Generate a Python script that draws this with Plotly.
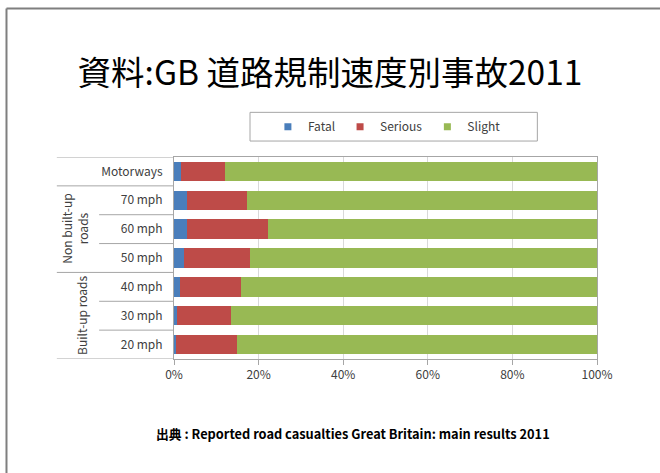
import plotly.graph_objects as go

categories = ["Motorways", "70 mph", "60 mph", "50 mph", "40 mph", "30 mph", "20 mph"]
fatal = [1.6, 3.0, 3.0, 2.3, 1.3, 0.6, 0.4]
serious = [10.5, 14.2, 19.2, 15.7, 14.5, 12.8, 14.5]
slight = [87.9, 82.8, 77.8, 82.0, 84.2, 86.6, 85.1]
series_names = ["Fatal", "Serious", "Slight"]
colors = ["#4A7EBB", "#BE4B48", "#98B954"]
x_ticks = [0, 20, 40, 60, 80, 100]
groups = [("Non built-up<br>roads", 2, -0.235), ("Built-up roads", 5, -0.217)]
# boundaries between categories (index-0.5) and where the separator starts (paper x)
boundaries = [(-0.5, -0.277), (0.5, -0.277), (1.5, -0.177), (2.5, -0.177),
              (3.5, -0.277), (4.5, -0.177), (5.5, -0.177), (6.5, -0.277)]

FONT = "Noto Sans CJK JP"
GRAY_TXT = "#404040"
LINE = "#A6A6A6"

fig = go.Figure()
for name, vals, col in zip(series_names, [fatal, serious, slight], colors):
    fig.add_trace(go.Bar(y=categories, x=vals, name=name, orientation="h",
                         marker=dict(color=col, line=dict(width=0)),
                         showlegend=False))
for name, col in zip(series_names, colors):
    fig.add_trace(go.Scatter(x=[None], y=[None], mode="markers", name=name,
                             marker=dict(symbol="square", size=7, color=col),
                             showlegend=True))

shapes = []
for yb, x0 in boundaries:
    shapes.append(dict(type="line", xref="paper", yref="y", x0=x0, x1=0, y0=yb, y1=yb,
                       line=dict(color=LINE, width=1)))
# legend box
shapes.append(dict(type="rect", xref="paper", yref="paper", x0=0.1797, x1=0.859,
                   y0=1.079, y1=1.221, line=dict(color="#A6A6A6", width=1)))
# slide frame
shapes.append(dict(type="line", xref="paper", yref="paper", x0=-0.396, x1=-0.396,
                   y0=1.735, y1=-0.7, line=dict(color="#7F7F7F", width=2)))
shapes.append(dict(type="line", xref="paper", yref="paper", x0=-0.396, x1=1.2,
                   y0=1.735, y1=1.735, line=dict(color="#7F7F7F", width=2)))

annotations = []
for text, idx, xp in groups:
    annotations.append(dict(text=text, xref="paper", yref="y", x=xp, y=idx,
                            xanchor="center", yanchor="middle",
                            textangle=-90, showarrow=False,
                            font=dict(family=FONT, size=12, color=GRAY_TXT)))
annotations.append(dict(text="<b>出典 : Reported road casualties Great Britain: main results 2011</b>",
                        xref="paper", yref="paper", x=0.423, y=-0.37,
                        xanchor="center", yanchor="middle", showarrow=False,
                        font=dict(family=FONT, size=12.8, color="#000000")))

fig.update_layout(
    width=660, height=473,
    margin=dict(l=174, r=63, t=157, b=114),
    paper_bgcolor="white", plot_bgcolor="white",
    barmode="stack", bargap=0.33,
    title=dict(text="資料:GB 道路規制速度別事故2011", xref="container", yref="container",
               x=0.5, y=1 - 73 / 473, xanchor="center", yanchor="middle",
               font=dict(family=FONT, size=33.5, color="#000000")),
    legend=dict(orientation="h", x=0.222, y=1.15, xanchor="left", yanchor="middle",
                traceorder="normal",
                bgcolor="rgba(0,0,0,0)", borderwidth=0,
                font=dict(family=FONT, size=12, color=GRAY_TXT), itemclick=False),
    shapes=shapes, annotations=annotations,
    showlegend=True,
)
fig.update_xaxes(range=[0, 100], tickvals=x_ticks, ticktext=[f"{v}%" for v in x_ticks],
                 showgrid=True, gridcolor="#D9D9D9", gridwidth=1,
                 showline=True, linecolor=LINE, linewidth=1, mirror=True,
                 ticks="outside", ticklen=5, tickcolor=LINE, zeroline=False,
                 tickfont=dict(family=FONT, size=12, color=GRAY_TXT), fixedrange=True)
fig.update_yaxes(type="category", categoryorder="array", categoryarray=categories,
                 range=[6.5, -0.5], showgrid=False,
                 showline=True, linecolor=LINE, linewidth=1, mirror=True,
                 ticks="", ticklabelstandoff=8,
                 tickfont=dict(family=FONT, size=12, color=GRAY_TXT), fixedrange=True)

fig.write_html("out.html")
